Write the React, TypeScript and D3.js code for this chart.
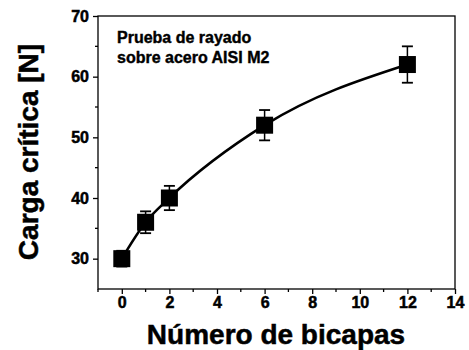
import { useEffect, useRef } from 'react';
import * as d3 from 'd3';

const W = 469;
const H = 350;
const M = { top: 16, right: 14, bottom: 61, left: 98 };

const layers = [0, 1, 2, 6, 12];
const load = [30, 36, 40, 52, 62];
const loadErr = [1.3, 1.8, 2, 2.5, 3];
const xTicks = [0, 2, 4, 6, 8, 10, 12, 14];
const yTicks = [30, 40, 50, 60, 70];
const FONT = '"Liberation Sans", Arial, sans-serif';

export default function App() {
  const ref = useRef<SVGSVGElement>(null);

  useEffect(() => {
    const svg = d3.select(ref.current);
    svg.selectAll('*').remove();
    const iw = W - M.left - M.right;
    const ih = H - M.top - M.bottom;
    const x = d3.scaleLinear().domain([-1, 14]).range([0, iw]);
    const y = d3.scaleLinear().domain([25, 70]).range([ih, 0]);
    const g = svg.append('g').attr('transform', `translate(${M.left},${M.top})`);

    // frame
    g.append('rect').attr('width', iw).attr('height', ih)
      .attr('fill', 'none').attr('stroke', '#000').attr('stroke-width', 1.3);

    // minor ticks
    const minorX = d3.range(-1, 14, 2);
    g.selectAll('.mx').data(minorX).join('line')
      .attr('x1', (d) => x(d)).attr('x2', (d) => x(d))
      .attr('y1', ih).attr('y2', ih + 3).attr('stroke', '#000').attr('stroke-width', 1.3);
    const minorY = d3.range(35, 70, 10);
    g.selectAll('.my').data(minorY).join('line')
      .attr('x1', -3).attr('x2', 0)
      .attr('y1', (d) => y(d)).attr('y2', (d) => y(d)).attr('stroke', '#000').attr('stroke-width', 1.3);

    const xa = g.append('g').attr('transform', `translate(0,${ih})`)
      .call(d3.axisBottom(x).tickValues(xTicks).tickSize(5).tickPadding(3).tickFormat(d3.format('d')));
    const ya = g.append('g')
      .call(d3.axisLeft(y).tickValues(yTicks).tickSize(5).tickPadding(4).tickFormat(d3.format('d')));
    [xa, ya].forEach((a) => {
      a.select('.domain').remove();
      a.attr('font-family', FONT).attr('font-size', 16).attr('font-weight', 'bold');
      a.selectAll('line').attr('stroke-width', 1.3);
      a.selectAll('text')
        .style('font-family', FONT).style('font-weight', '700').style('font-size', '16px')
        .attr('fill', '#000').attr('stroke', '#000').attr('stroke-width', 0.5);
    });

    // fitted curve
    const pts = layers.map((d, i) => [x(d), y(load[i])] as [number, number]);
    g.append('path').attr('d', d3.line().curve(d3.curveMonotoneX)(pts))
      .attr('fill', 'none').attr('stroke', '#000').attr('stroke-width', 2.6);

    // error bars
    const eb = g.selectAll('.eb').data(layers).join('g');
    eb.append('line')
      .attr('x1', (d) => x(d)).attr('x2', (d) => x(d))
      .attr('y1', (d, i) => y(load[i] - loadErr[i])).attr('y2', (d, i) => y(load[i] + loadErr[i]))
      .attr('stroke', '#000').attr('stroke-width', 1.5);
    [-1, 1].forEach((s) => {
      eb.append('line')
        .attr('x1', (d) => x(d) - 5.5).attr('x2', (d) => x(d) + 5.5)
        .attr('y1', (d, i) => y(load[i] + s * loadErr[i])).attr('y2', (d, i) => y(load[i] + s * loadErr[i]))
        .attr('stroke', '#000').attr('stroke-width', 1.8);
    });

    // markers
    const sz = 17;
    g.selectAll('.mk').data(layers).join('rect')
      .attr('x', (d) => x(d) - sz / 2).attr('y', (d, i) => y(load[i]) - sz / 2)
      .attr('width', sz).attr('height', sz).attr('fill', '#000');

    // annotation
    const note = g.append('text').attr('font-family', FONT).attr('font-weight', 'bold')
      .attr('font-size', 16).attr('fill', '#000').attr('stroke', '#000').attr('stroke-width', 0.4);
    note.append('tspan').attr('x', 19).attr('y', 27).text('Prueba de rayado');
    note.append('tspan').attr('x', 19).attr('y', 47).text('sobre acero AISI M2');

    // axis titles
    svg.append('text').attr('x', 276).attr('y', 344)
      .attr('text-anchor', 'middle').attr('font-family', FONT).attr('font-weight', 'bold')
      .attr('font-size', 28).attr('fill', '#000').attr('stroke', '#000').attr('stroke-width', 0.5)
      .text('Número de bicapas');
    svg.append('text').attr('transform', 'translate(38,152) rotate(-90)')
      .attr('text-anchor', 'middle').attr('font-family', FONT).attr('font-weight', 'bold')
      .attr('font-size', 28).attr('fill', '#000').attr('stroke', '#000').attr('stroke-width', 0.5)
      .text('Carga crítica [N]');
  }, []);

  return (
    <svg ref={ref} width={W} height={H} style={{ position: 'absolute', left: 0, top: 0, background: '#fff' }} />
  );
}
